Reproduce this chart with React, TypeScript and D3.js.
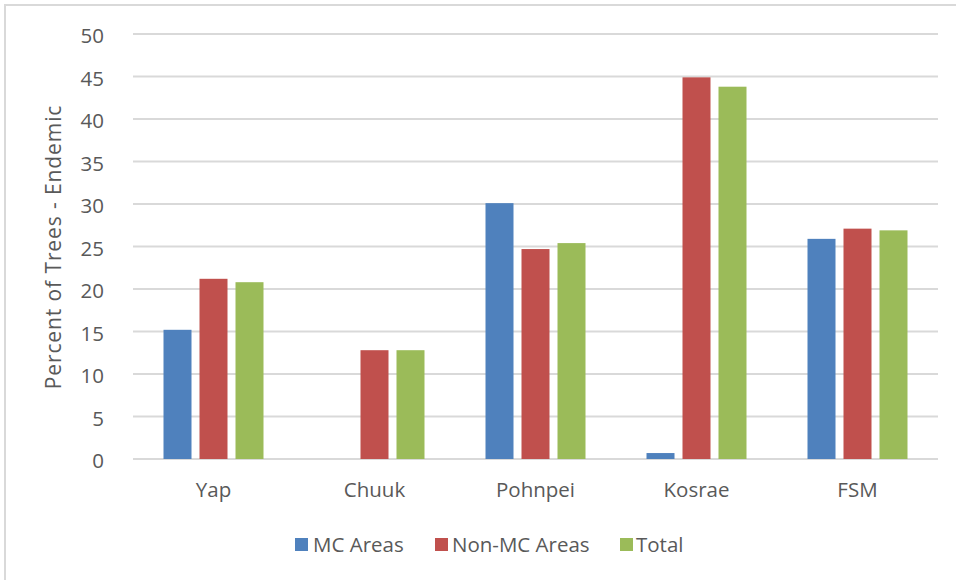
import React from 'react';
import * as d3 from 'd3';

const categories = ['Yap', 'Chuuk', 'Pohnpei', 'Kosrae', 'FSM'];
const seriesNames = ['MC Areas', 'Non-MC Areas', 'Total'];
const mcAreas = [15.2, 0, 30.1, 0.7, 25.9];
const nonMcAreas = [21.2, 12.8, 24.7, 44.9, 27.1];
const totalValues = [20.8, 12.8, 25.4, 43.8, 26.9];
const yTicks = [0, 5, 10, 15, 20, 25, 30, 35, 40, 45, 50];
const colors = ['#4F81BD', '#C0504D', '#9BBB59'];

const W = 956;
const H = 580;
const textColor = '#595959';
const font = '"Open Sans", "Liberation Sans", sans-serif';

const App: React.FC = () => {
    const series = [mcAreas, nonMcAreas, totalValues];

    const x0 = d3.scaleBand().domain(categories).range([133, 938]).padding(0);
    const x1 = d3.scaleBand().domain(seriesNames).range([-50, 50]).paddingInner(8 / 36).paddingOuter(0);
    const y = d3.scaleLinear().domain([0, 50]).range([459, 34]);

    // legend layout
    const legendItems = [
        { name: 'MC Areas', sx: 295, tx: 313 },
        { name: 'Non-MC Areas', sx: 435, tx: 452 },
        { name: 'Total', sx: 620, tx: 636 },
    ];

    return (
        <svg width={W} height={H} style={{ position: 'absolute', left: 0, top: 0, background: '#fff' }}>
            <rect x={5} y={5} width={W + 10} height={H + 10} fill="#fff" stroke="#d9d9d9" strokeWidth={2} />

            {/* gridlines */}
            {yTicks.map(t => (
                <line key={'g' + t} x1={133} x2={938} y1={y(t)} y2={y(t)} stroke="#d9d9d9" strokeWidth={2} />
            ))}

            {/* y tick labels */}
            {yTicks.map(t => (
                <text key={'t' + t} x={104} y={y(t) + 1} textAnchor="end" dominantBaseline="central"
                    fontFamily={font} fontSize={20.5} fill={textColor}>{t}</text>
            ))}

            {/* bars */}
            {categories.map((c, i) => (
                <g key={c} transform={`translate(${(x0(c) || 0) + x0.bandwidth() / 2},0)`}>
                    {series.map((s, j) => (
                        s[i] > 0 ? <rect key={j} x={x1(seriesNames[j])} y={y(s[i])} width={x1.bandwidth()}
                            height={y(0) - y(s[i])} fill={colors[j]} /> : null
                    ))}
                </g>
            ))}

            {/* category labels */}
            {categories.map(c => (
                <text key={'c' + c} x={(x0(c) || 0) + x0.bandwidth() / 2} y={497} textAnchor="middle"
                    fontFamily={font} fontSize={20.5} fill={textColor}>{c}</text>
            ))}

            {/* axis title */}
            <text transform="translate(61,247) rotate(-90)" textAnchor="middle" fontFamily={font}
                fontSize={21} letterSpacing={0.9} fill={textColor}>Percent of Trees - Endemic</text>

            {/* legend */}
            {legendItems.map((l, i) => (
                <g key={l.name}>
                    <rect x={l.sx} y={538} width={13} height={13} fill={colors[i]} />
                    <text x={l.tx} y={552} fontFamily={font} fontSize={20.5} fill={textColor}>{l.name}</text>
                </g>
            ))}
        </svg>
    );
};

export default App;
